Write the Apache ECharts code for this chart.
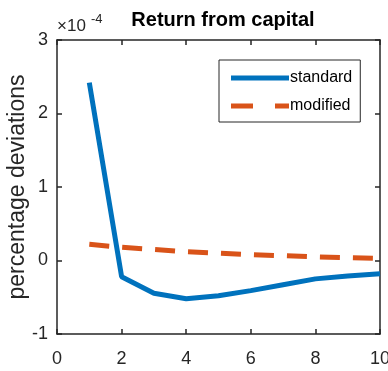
<!DOCTYPE html>
<html><head><meta charset="utf-8">
<script src="https://cdn.jsdelivr.net/npm/echarts@6/dist/echarts.min.js"></script>
<style>html,body{margin:0;padding:0;background:#fff}#c{width:388px;height:371px}</style>
</head><body><div id="c"></div>
<script>
var periods = [1,2,3,4,5,6,7,8,9,10];
var standard = [2.42,-0.22,-0.445,-0.52,-0.48,-0.41,-0.33,-0.25,-0.21,-0.18];
var modified = [0.22,0.18,0.15,0.12,0.10,0.08,0.065,0.05,0.04,0.03];
var xTicks = [0,2,4,6,8,10];
var yTicks = [-1,0,1,2,3];
var font = 'Liberation Sans, Arial, sans-serif';
var ax = '#262626';
function pairs(v){return periods.map(function(p,i){return [p,v[i]];});}
var chart = echarts.init(document.getElementById('c'));
var axisCommon = {
  axisLine:{show:true,onZero:false,lineStyle:{color:ax,width:1.5}},
  axisTick:{show:true,inside:true,length:5,lineStyle:{color:ax,width:1.5}},
  splitLine:{show:false}
};
chart.setOption({
  animation:false,
  title:{text:'Return from capital',left:218,textAlign:'center',top:5,
    textStyle:{fontFamily:font,fontSize:20,fontWeight:'bold',color:'#000'}},
  grid:{left:57,right:8,top:40,bottom:37,containLabel:false,outerBoundsMode:'none'},
  legend:{orient:'vertical',left:219,top:60,width:143,
    borderColor:ax,borderWidth:1,padding:[10,8,8,12],itemGap:12,
    itemWidth:58,itemHeight:5,
    textStyle:{fontFamily:font,fontSize:16,color:'#000',padding:[0,0,0,-4]},
    data:[
      {name:'standard',icon:'rect'},
      {name:'modified',icon:'path://M0,0H22V5H0Z M44,0H58V5H44Z'}
    ]},
  graphic:[
    {type:'text',left:57,top:18,style:{text:'\u00d710',font:'17px '+font,fill:ax}},
    {type:'text',left:91,top:13,style:{text:'-4',font:'13px '+font,fill:ax}}
  ],
  xAxis:[
    Object.assign({type:'value',min:0,max:10,interval:2,position:'bottom',
      axisLabel:{fontFamily:font,fontSize:18,color:ax,margin:16}},axisCommon),
    Object.assign({type:'value',min:0,max:10,interval:2,position:'top',
      axisLabel:{show:false}},axisCommon)
  ],
  yAxis:[
    Object.assign({type:'value',min:-1,max:3,interval:1,position:'left',
      name:'percentage deviations',nameLocation:'middle',nameGap:28,nameMoveOverlap:false,
      nameTextStyle:{fontFamily:font,fontSize:23,color:ax},
      axisLabel:{fontFamily:font,fontSize:18,color:ax,margin:9}},axisCommon),
    Object.assign({type:'value',min:-1,max:3,interval:1,position:'right',
      axisLabel:{show:false}},axisCommon)
  ],
  series:[
    {name:'standard',type:'line',data:pairs(standard),showSymbol:false,symbol:'none',
      lineStyle:{color:'#0072BD',width:5},itemStyle:{color:'#0072BD'}},
    {name:'modified',type:'line',data:pairs(modified),showSymbol:false,symbol:'none',
      lineStyle:{color:'#D95319',width:5,type:[20,13]},itemStyle:{color:'#D95319'}}
  ]
});
</script></body></html>
